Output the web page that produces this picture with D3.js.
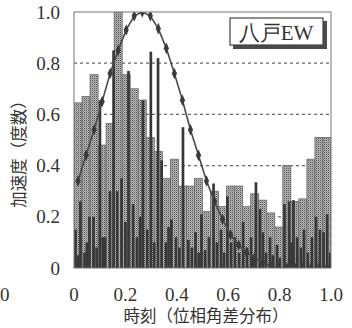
<!DOCTYPE html>
<html><head><meta charset="utf-8">
<script src="https://cdn.jsdelivr.net/npm/d3@7"></script>
<style>
html,body{margin:0;padding:0;background:#fff;}
svg{display:block;}
</style></head>
<body>
<svg id="c" width="352" height="328"></svg>
<script>
// ---- data ----
const binCount = 32;
const histValues = [0.645,0.67,0.755,0.48,0.565,1.0,0.755,0.70,0.656,0.51,0.455,0.35,0.425,0.32,0.32,0.35,
                    0.22,0.30,0.24,0.32,0.32,0.24,0.29,0.265,0.215,0.16,0.40,0.26,0.27,0.425,0.51,0.51];
const curveValues = [0.34,0.44,0.54,0.65,0.76,0.85,0.93,0.985,1.0,0.985,0.935,0.858,0.76,0.655,0.54,0.44,
                     0.34,0.26,0.19,0.13,0.09,0.06,0.04,0.02,0.01,0,0,0,0,0,0,0];
const spikeT = [0.006,0.016,0.025,0.041,0.050,0.060,0.076,0.088,0.101,0.112,0.121,0.140,0.154,0.168,0.185,0.200,
                0.212,0.230,0.245,0.258,0.268,0.285,0.299,0.312,0.327,0.341,0.358,0.368,0.379,0.397,0.410,0.424,
                0.445,0.459,0.473,0.485,0.496,0.510,0.525,0.543,0.556,0.572,0.584,0.597,0.611,0.626,0.642,0.658,
                0.673,0.689,0.698,0.708,0.724,0.735,0.747,0.763,0.774,0.790,0.801,0.819,0.837,0.846,0.854,0.868,
                0.883,0.895,0.910,0.926,0.942,0.957,0.971,0.985,0.997];
const spikeV = [0.15,0.05,0.26,0.06,0.10,0.20,0.20,0.08,0.655,0.12,0.12,0.30,0.85,0.30,0.35,0.18,
                0.77,0.25,0.12,0.20,0.655,0.15,0.845,0.10,0.82,0.42,0.10,0.16,0.19,0.12,0.08,0.55,
                0.11,0.08,0.14,0.06,0.21,0.07,0.12,0.33,0.10,0.15,0.06,0.28,0.10,0.12,0.06,0.18,
                0.08,0.12,0.05,0.335,0.23,0.14,0.06,0.12,0.05,0.09,0.04,0.25,0.26,0.10,0.265,0.12,
                0.08,0.15,0.06,0.12,0.20,0.15,0.14,0.21,0.06];
const xTicks = [0,0.2,0.4,0.6,0.8,1.0];
const yTicks = [0,0.2,0.4,0.6,0.8,1.0];
const gridY = [0.2,0.4,0.6,0.8];
const xTickLabels = ["0","0.2","0.4","0.6","0.8","1.0"];
const yTickLabels = ["0","0.2","0.4","0.6","0.8","1.0"];
const legendText = "八戸EW";
const xTitle = "時刻（位相角差分布）";
const yTitle = "加速度（度数）";

// ---- layout ----
const L = 74, R = 331, T = 12, B = 268;
const svg = d3.select("#c");
const x = d3.scaleLinear().domain([0,1]).range([L,R]);
const y = d3.scaleLinear().domain([0,1]).range([B,T]);
const serif = "Liberation Serif, DejaVu Serif, serif";
const cjk = "Noto Sans CJK JP, Noto Sans CJK SC, sans-serif";

// texture pattern for histogram bars
const defs = svg.append("defs");
const pat = defs.append("pattern").attr("id","tex").attr("width",2).attr("height",2).attr("patternUnits","userSpaceOnUse");
pat.append("rect").attr("width",2).attr("height",2).attr("fill","#b2b2b2");
pat.append("rect").attr("width",1).attr("height",1).attr("fill","#5c5c5c");
pat.append("rect").attr("x",1).attr("y",1).attr("width",1).attr("height",1).attr("fill","#9a9a9a");

const clip = defs.append("clipPath").attr("id","pc");
clip.append("rect").attr("x",L).attr("y",T).attr("width",R-L).attr("height",B-T);

// grid
svg.append("g").selectAll("line").data(gridY).join("line")
  .attr("x1",L).attr("x2",R).attr("y1",d=>y(d)).attr("y2",d=>y(d))
  .attr("stroke","#666").attr("stroke-width",1.2).attr("stroke-dasharray","3,3");

const g = svg.append("g").attr("clip-path","url(#pc)");
// histogram bars
g.append("g").selectAll("rect").data(histValues).join("rect")
  .attr("x",(d,i)=>x(i/binCount))
  .attr("width",(d,i)=>x((i+1)/binCount)-x(i/binCount))
  .attr("y",d=>y(d)).attr("height",d=>y(0)-y(d))
  .attr("fill","url(#tex)").attr("stroke","#6a6a6a").attr("stroke-width",0.8);

// dark spikes
const sw = 0.0105;
g.append("g").selectAll("rect").data(spikeT).join("rect")
  .attr("x",d=>x(d-sw/2)).attr("width",x(sw)-x(0))
  .attr("y",(d,i)=>y(spikeV[i])).attr("height",(d,i)=>y(0)-y(spikeV[i]))
  .attr("fill","#383838");

// curve
const pts = curveValues.map((v,i)=>[(i+0.5)/binCount, v]);
g.append("path").datum(pts)
  .attr("d",d3.line().x(d=>x(d[0])).y(d=>y(d[1])))
  .attr("fill","none").attr("stroke","#4a4a4a").attr("stroke-width",1.6);
g.append("g").selectAll("path").data(pts).join("path")
  .attr("d",d3.symbol().type(d3.symbolDiamond).size(32))
  .attr("transform",d=>`translate(${x(d[0])},${y(d[1])}) scale(0.85,1.1)`)
  .attr("fill","#3a3a3a");

// frame
svg.append("rect").attr("x",L).attr("y",T).attr("width",R-L).attr("height",B-T)
  .attr("fill","none").attr("stroke","#777").attr("stroke-width",1);

// legend
svg.append("rect").attr("x",233).attr("y",21).attr("width",94).attr("height",28).attr("fill","#4a4a4a");
svg.append("rect").attr("x",230).attr("y",18).attr("width",93).attr("height",27)
  .attr("fill","#fff").attr("stroke","#444").attr("stroke-width",1.2);
svg.append("text").attr("x",276).attr("y",40).attr("text-anchor","middle")
  .attr("font-family",serif).attr("font-size",21).attr("fill","#333").text(legendText);

// axes labels
svg.append("g").selectAll("text").data(xTicks).join("text")
  .attr("x",d=>x(d)).attr("y",301).attr("text-anchor","middle")
  .attr("font-family",serif).attr("font-size",19).attr("fill","#333")
  .text((d,i)=>xTickLabels[i]);
svg.append("g").selectAll("text").data(yTicks).join("text")
  .attr("x",60).attr("y",d=>y(d)+6.5).attr("text-anchor","end")
  .attr("font-family",serif).attr("font-size",19).attr("fill","#333")
  .text((d,i)=>yTickLabels[i]);
// neighbour label at far left
svg.append("text").attr("x",0).attr("y",301).attr("text-anchor","start")
  .attr("font-family",serif).attr("font-size",19).attr("fill","#333").text("0");

svg.append("text").attr("x",206).attr("y",322).attr("text-anchor","middle")
  .attr("font-family",cjk).attr("font-size",16.5).attr("fill","#333").text(xTitle);
svg.append("text").attr("transform","translate(25,150) rotate(-90)").attr("text-anchor","middle")
  .attr("font-family",cjk).attr("font-size",16.5).attr("fill","#333").text(yTitle);
</script>
</body></html>
